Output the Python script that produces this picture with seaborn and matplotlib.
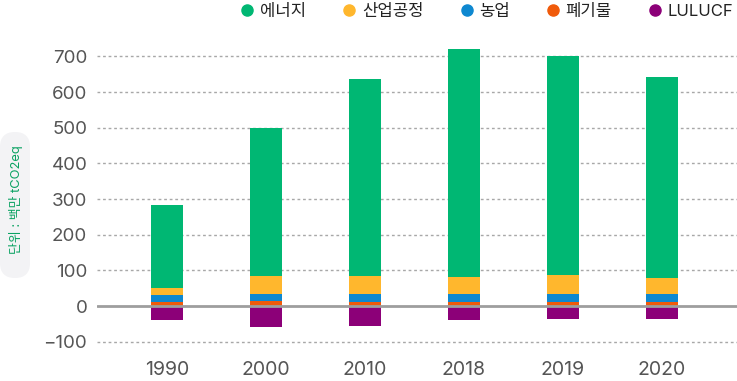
import matplotlib
matplotlib.use('Agg')
import matplotlib.pyplot as plt
import pandas as pd
import seaborn as sns
from matplotlib.lines import Line2D
from matplotlib.patches import FancyBboxPatch

# data (백만 tCO2eq)
years = ['1990', '2000', '2010', '2018', '2019', '2020']
energy = [231, 415, 553, 640, 613, 562]
ippu = [21, 48, 48, 48, 53, 45]
agri = [20, 22, 23, 23, 23, 23]
waste = [10, 13, 12, 11, 11, 11]
lulucf = [-38, -60, -57, -40, -37, -37]

labels = ['에너지', '산업공정', '농업', '폐기물', 'LULUCF']
colors = ['#00b773', '#ffb72d', '#0e88d0', '#f05a0a', '#8c0078']

df = pd.DataFrame({'year': years, 'energy': energy, 'ippu': ippu,
                   'agri': agri, 'waste': waste, 'lulucf': lulucf})

sns.set_theme(style='white')
plt.rcParams['font.family'] = ['Inter', 'Noto Sans CJK KR', 'DejaVu Sans']

fig = plt.figure(figsize=(7.37, 3.81), dpi=100)
ax = fig.add_axes([0.1316, 0.1031, 0.8684, 0.7958])

# stacked layers: waste -> agri -> ippu -> energy, lulucf below zero
b_agri = df['waste']
b_ippu = df['waste'] + df['agri']
b_energy = b_ippu + df['ippu']
layers = [
    ('waste', 0, colors[3]),
    ('agri', b_agri, colors[2]),
    ('ippu', b_ippu, colors[1]),
    ('energy', b_energy, colors[0]),
    ('lulucf', 0, colors[4]),
]
for col, bottom, c in layers:
    sns.barplot(data=df, x='year', y=col, order=years, bottom=bottom,
                color=c, width=0.32, saturation=1, ax=ax, zorder=3,
                linewidth=0, err_kws={'linewidth': 0})

ax.set_ylim(-100, 750)
ax.set_xlim(-0.707, 5.76)
ax.set_yticks(range(-100, 701, 100))
for v in range(-100, 701, 100):
    if v == 0:
        ax.axhline(0, color='#9e9e9e', lw=2, zorder=4)
    else:
        ax.axhline(v, color='#a8a8a8', lw=1, ls=(0, (2, 2)), zorder=1, clip_on=False)

sns.despine(ax=ax, left=True, bottom=True)
ax.set_xlabel('')
ax.set_ylabel('')
ax.tick_params(axis='y', length=0, pad=7, labelsize=13.5, labelcolor='#555555')
ax.tick_params(axis='x', length=0, pad=14, labelsize=14, labelcolor='#555555')

handles = [Line2D([], [], marker='o', ls='', color=c, markersize=8) for c in colors]
fig.legend(handles, labels, loc='upper right', bbox_to_anchor=(0.995, 0.99),
           ncol=5, frameon=False, fontsize=12, handletextpad=0.25,
           columnspacing=2.1, handlelength=1.0, borderpad=0, borderaxespad=0,
           labelcolor='#222222')

# unit label in a rounded light box
fig.patches.append(FancyBboxPatch((0, 103), 30, 146, transform=None,
                                  boxstyle='round,pad=0,rounding_size=15',
                                  fc='#f3f3f5', ec='none', figure=fig))
fig.text(16.5 / 737, 1 - 200 / 381, '단위 : 백만 tCO2eq', rotation=90,
         ha='center', va='center', color='#0aa262', fontsize=9.3)

fig.savefig('out.png', dpi=100)
